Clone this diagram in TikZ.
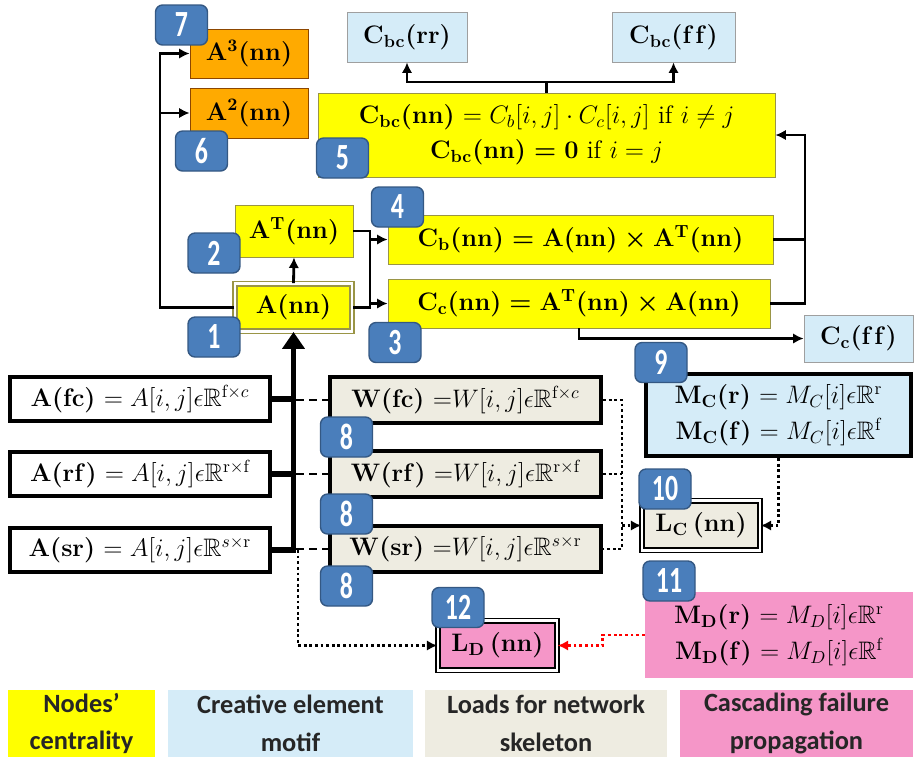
\documentclass[tikz,border=0pt]{standalone}
\usepackage{amssymb}
\usepackage{fontspec}
\newfontfamily\legendfont{Carlito}
\newfontfamily\badgefont[FakeStretch=0.7]{Carlito}
\usetikzlibrary{arrows.meta}
\definecolor{cellyellow}{HTML}{FFFF00}
\definecolor{cellorange}{HTML}{FFAA00}
\definecolor{cellblue}{HTML}{D5ECF8}
\definecolor{cellbeige}{HTML}{EEECE1}
\definecolor{cellpink}{HTML}{F596C8}
\definecolor{badgeblue}{HTML}{4A7EBB}
\newcommand{\bmx}[1]{{\boldmath$\mathbf{#1}$}}

\begin{document}
\begin{tikzpicture}[x=0.02cm,y=-0.02cm,
  every node/.style={font=\fontsize{14.4}{18}\selectfont,inner sep=0pt},
  link/.style={line width=1.6pt},
  dotlink/.style={line width=1.6pt,dash pattern=on 1.6pt off 1.6pt},
  dashlink/.style={line width=1.6pt,dash pattern=on 4.5pt off 3pt},
  buslink/.style={line width=3pt},
  headed/.style={-{Latex[length=6pt,width=6pt]}},
  ybox/.style={draw=yellow!55!black,line width=0.5pt,fill=cellyellow},
  obox/.style={draw=orange!55!black,line width=0.5pt,fill=cellorange},
  motifbox/.style={draw=gray!75,line width=0.5pt,fill=cellblue},
  adjbox/.style={draw,line width=2.4pt,fill=white,minimum width=5.2cm,minimum height=0.88cm},
  loadbox/.style={draw,line width=2.4pt,fill=cellbeige,minimum width=5.42cm,minimum height=0.92cm},
  dbox/.style={draw,line width=0.8pt,double=white,double distance=1.6pt},
  badge/.style={draw=badgeblue!70!black,line width=0.8pt,fill=badgeblue,rounded corners=4pt,text=white,
    font=\badgefont\bfseries\fontsize{21}{21}\selectfont,minimum width=1.04cm,minimum height=0.8cm},
  legendbox/.style={font=\legendfont\bfseries\fontsize{15}{21.5}\selectfont,text=black!85,align=center,minimum height=1.34cm}]
\useasboundingbox (0,0) rectangle (915,761);

\node[obox,minimum width=2.36cm,minimum height=0.98cm] (a3) at (249,53.5) {\bmx{A^3(nn)}};
\node[obox,minimum width=2.36cm,minimum height=1cm] (a2) at (249,113) {\bmx{A^2(nn)}};
\node[motifbox,minimum width=2.4cm,minimum height=1cm] (cbcrr) at (407,37) {\bmx{C_{bc}(rr)}};
\node[motifbox,minimum width=2.46cm,minimum height=1cm] (cbcff) at (673.5,37) {\bmx{C_{bc}(f\mkern1mu f)}};
\node[ybox,minimum width=9.14cm,minimum height=1.68cm,align=center,font=\fontsize{14.4}{20}\selectfont] (cbcnn) at (546.5,135)
  {\bmx{C_{bc}(nn)} $= C_b[i,j]\cdot C_c[i,j]$ if $i\neq j$\\\bmx{C_{bc}(nn) = 0} if $i=j$};
\node[ybox,minimum width=2.36cm,minimum height=1.04cm] (at) at (294,231) {\bmx{A^T(nn)}};
\node[ybox,minimum width=7.7cm,minimum height=0.98cm] (cb) at (580.5,239.5) {\bmx{C_b(nn) = A(nn)\times A^T(nn)}};
\node[ybox,dbox,minimum width=2.34cm,minimum height=0.95cm] (ann) at (293.5,307.5) {\bmx{A(nn)}};
\node[ybox,minimum width=7.64cm,minimum height=0.98cm] (cc) at (579,303.5) {\bmx{C_c(nn) = A^T(nn)\times A(nn)}};
\node[motifbox,minimum width=2.18cm,minimum height=0.94cm] (ccff) at (858.5,338.5) {\bmx{C_c(f\mkern1mu f)}};

\node[adjbox] (afc) at (140,399) {\bmx{A(fc)} $=A[i,j]\epsilon\mathbb{R}^{\mathrm{f}\times c}$};
\node[adjbox] (arf) at (140,474) {\bmx{A(rf)} $=A[i,j]\epsilon\mathbb{R}^{\mathrm{r\times f}}$};
\node[adjbox] (asr) at (140,550) {\bmx{A(sr)} $=A[i,j]\epsilon\mathbb{R}^{s\times\mathrm{r}}$};
\node[loadbox] (wfc) at (465.5,400) {\bmx{W(fc)} ${=}W[i,j]\epsilon\mathbb{R}^{\mathrm{f}\times c}$};
\node[loadbox] (wrf) at (465.5,474) {\bmx{W(rf)} ${=}W[i,j]\epsilon\mathbb{R}^{\mathrm{r\times f}}$};
\node[loadbox] (wsr) at (465.5,549) {\bmx{W(sr)} ${=}W[i,j]\epsilon\mathbb{R}^{s\times\mathrm{r}}$};

\node[draw,line width=2.4pt,fill=cellblue,minimum width=5.3cm,minimum height=1.64cm,align=center,font=\fontsize{14.4}{20.5}\selectfont] (mc) at (778.5,415)
  {\bmx{M_C(r)} $= M_C[i]\epsilon\mathbb{R}^{\mathrm{r}}$\\\bmx{M_C(f)} $= M_C[i]\epsilon\mathbb{R}^{\mathrm{f}}$};
\node[dbox,fill=cellbeige,minimum width=2.36cm,minimum height=0.99cm] (lc) at (701,525.5) {\bmx{L_C\,(nn)}};
\node[fill=cellpink,minimum width=5.36cm,minimum height=1.72cm,align=center,font=\fontsize{14.4}{20.5}\selectfont] (md) at (779,635)
  {\bmx{M_D(r)} $= M_D[i]\epsilon\mathbb{R}^{\mathrm{r}}$\\\bmx{M_D(f)} $= M_D[i]\epsilon\mathbb{R}^{\mathrm{f}}$};
\node[dbox,fill=cellpink,minimum width=2.38cm,minimum height=0.99cm] (ld) at (497.5,645.5) {\bmx{L_D\,(nn)}};

\coordinate (loopx) at (160,0);
\draw[link,headed] (ann.west) -| (loopx |- a3.west) -- (a3.west);
\draw[link,headed] (loopx |- a2.west) -- (a2.west);
\draw[link,headed] (ann.north) -- (at.south);
\coordinate (cbus) at (370,0);
\draw[link] (at.east) -| (cbus |- ann.east) -- (ann.east);
\draw[link,headed] (cbus |- cb.west) -- (cb.west);
\draw[link,headed] (cbus |- cc.west) -- (cc.west);
\coordinate (rbus) at (805,0);
\draw[link] (cb.east) -- (cb.east -| rbus);
\draw[link,headed] (cc.east) -| (rbus |- cbcnn.east) -- (cbcnn.east);
\coordinate (tbus) at (0,82);
\draw[link] (cbcnn.north) -- (cbcnn.north |- tbus);
\draw[link,headed] (cbcnn.north |- tbus) -| (cbcrr.south);
\draw[link,headed] (cbcnn.north |- tbus) -| (cbcff.south);
\draw[link,headed] (cc.south) |- (ccff.west);

\draw[buslink] (afc.east) -- (afc.east -| ann.south);
\draw[buslink] (arf.east) -- (arf.east -| ann.south);
\draw[buslink] (asr.east) -- (asr.east -| ann.south);
\draw[buslink,-{Triangle[length=0.34cm,width=0.44cm]}] ([yshift=-1.5pt]asr.east -| ann.south) -- (ann.south);
\draw[dashlink] ([xshift=1.5pt]wfc.west -| ann.south) -- (wfc.west);
\draw[dashlink] ([xshift=1.5pt]wrf.west -| ann.south) -- (wrf.west);
\draw[dashlink] ([xshift=1.5pt]wsr.west -| ann.south) -- (wsr.west);

\coordinate (wbus) at (622,0);
\draw[dotlink] (wfc.east) -| (wbus |- wsr.east) -- (wsr.east);
\draw[dotlink] (wrf.east) -- (wrf.east -| wbus);
\draw[dotlink,headed] (wbus |- lc.west) -- (lc.west);
\draw[dotlink,headed] (mc.south) |- (lc.east);
\coordinate (ldbus) at (298,0);
\draw[dotlink,headed] (ldbus |- asr.east) |- (ld.west);
\draw[dotlink,red,headed] (md.west) -- ++(-42,0) |- (ld.east);

\node[badge] (b7) at (181.5,25) {7};
\node[badge] (b6) at (201.5,151) {6};
\node[badge] (b5) at (342.5,158) {5};
\node[badge] (b4) at (397.5,207) {4};
\node[badge] (b2) at (214,253) {2};
\node[badge] (b1) at (214,337) {1};
\node[badge] (b3) at (395,342.5) {3};
\node[badge] (b9) at (661,362.5) {9};
\node[badge] (b8a) at (346.5,437) {8};
\node[badge] (b8b) at (346.5,514) {8};
\node[badge] (b8c) at (346.5,586) {8};
\node[badge] (b10) at (665,489) {10};
\node[badge] (b11) at (669,581) {11};
\node[badge] (b12) at (458,607.5) {12};

\node[legendbox,fill=cellyellow,minimum width=2.94cm] (lgnodes) at (81.5,723.5) {Nodes’\\centrality};
\node[legendbox,fill=cellblue,minimum width=4.9cm] (lgmotif) at (290.5,723.5) {Creative element\\motif};
\node[legendbox,fill=cellbeige,minimum width=4.84cm] (lgload) at (546,723.5) {Loads for network\\skeleton};
\node[legendbox,fill=cellpink,minimum width=4.66cm] (lgcasc) at (796.5,723.5) {Cascading failure\\propagation};
\end{tikzpicture}
\end{document}
